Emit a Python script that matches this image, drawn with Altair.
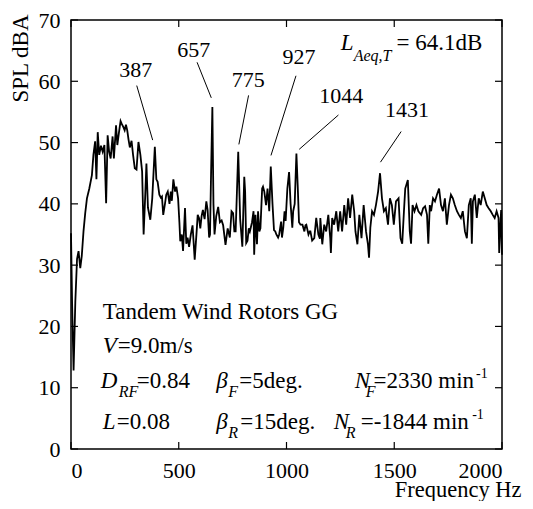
import altair as alt
import pandas as pd

# ---- spectrum ----
freq = [0, 5, 12, 20, 28, 35, 43, 50, 58, 66, 74, 85, 97, 104, 112, 118, 124, 131, 139, 147,
        155, 163, 170, 177, 184, 193, 199, 209, 215, 222, 230, 236, 242, 249, 255, 261, 267, 273, 281, 288,
        296, 304, 313, 322, 330, 337, 344, 350, 357, 368, 377, 389, 396, 402, 410, 417, 422, 428, 436, 442,
        449, 457, 463, 468, 475, 483, 489, 497, 503, 507, 514, 520, 529, 535, 541, 548, 556, 564, 574, 583,
        588, 594, 600, 606, 612, 620, 628, 634, 641, 645, 650, 656, 661, 666, 674, 683, 691, 699, 706, 717,
        727, 737, 745, 752, 758, 764, 770, 776, 785, 795, 804, 808, 813, 819, 825, 830, 840, 847, 850, 856,
        863, 868, 874, 879, 887, 891, 897, 905, 912, 920, 927, 935, 942, 948, 953, 961, 966, 975, 979, 985,
        991, 996, 1004, 1012, 1019, 1027, 1031, 1038, 1046, 1052, 1058, 1065, 1074, 1083, 1088, 1092, 1102, 1108, 1111, 1119,
        1129, 1138, 1148, 1155, 1157, 1166, 1175, 1184, 1194, 1203, 1206, 1212, 1221, 1231, 1240, 1249, 1258, 1268, 1277, 1286,
        1295, 1305, 1314, 1320, 1329, 1338, 1348, 1358, 1369, 1378, 1383, 1389, 1397, 1406, 1415, 1425, 1434, 1443, 1452, 1461,
        1471, 1480, 1489, 1498, 1508, 1520, 1529, 1537, 1545, 1551, 1563, 1572, 1578, 1585, 1594, 1603, 1612, 1625, 1634, 1643,
        1652, 1658, 1665, 1671, 1680, 1689, 1698, 1708, 1717, 1726, 1735, 1744, 1754, 1763, 1772, 1781, 1791, 1800, 1809, 1818,
        1828, 1837, 1846, 1855, 1860, 1865, 1874, 1883, 1892, 1901, 1911, 1920, 1929, 1938, 1948, 1957, 1966, 1975, 1984, 1987,
        1991, 1996, 2000]
spl = [35.2, 24, 12.8, 24, 31, 32.3, 29.5, 31.5, 35.5, 38.5, 40.9, 42.5, 44.7, 48, 50.2, 44, 51.7, 48, 49.5, 48.5,
       49.6, 40.1, 51.2, 48.5, 47.4, 51, 47.4, 52.8, 49.6, 51.5, 53.5, 53, 52.6, 52, 52.9, 52, 50.5, 49.2, 50.3, 48,
       45.8, 45.6, 50.1, 48, 45.3, 35, 41, 46.6, 39.4, 37.4, 40.9, 49.3, 44, 43.6, 41.5, 41, 41.2, 38.2, 40, 41.5,
       42, 40, 42, 40.5, 44, 42, 42.8, 40.9, 37, 33.9, 35, 32.3, 39.3, 33.5, 34.5, 33, 35, 36.5, 30.9, 35.5,
       38.2, 37.7, 36, 38, 39, 37.5, 40.4, 39, 34.5, 35, 45, 55.8, 40, 35, 38, 39.5, 37, 37.3, 36.5, 33.3,
       36, 34.5, 38.8, 38.5, 35.5, 35.5, 42, 48.5, 37.5, 33, 44.4, 42, 33.6, 34, 36, 35.5, 37, 38.8, 31.7, 38.2,
       33.4, 38.8, 35.5, 36, 42.5, 42.8, 42, 39.8, 42.5, 38.8, 46.1, 40, 35.7, 35.5, 35, 34.5, 35, 37.1, 34.5, 36.1,
       38.8, 37.2, 42.5, 45.2, 40, 36.1, 38.8, 40, 48.2, 43, 37, 36.6, 36.6, 35.5, 36.5, 36.6, 35, 35.5, 35.5, 34,
       34.4, 37.7, 35, 34.3, 37.7, 33.4, 36.6, 35.5, 38.2, 34.4, 32, 37.7, 36.6, 38.8, 35.5, 38.8, 35.5, 39.8, 36.6, 40.9,
       37.7, 41.5, 38.8, 35.5, 33.4, 38.2, 34.4, 39.8, 35.5, 33.4, 31.2, 36.1, 38.8, 38.2, 39.8, 42, 45, 40.9, 38.8, 39.3,
       36.6, 40.9, 39.8, 36.6, 40.4, 40.9, 34.4, 33.5, 38.8, 42.5, 43.9, 35.5, 33.5, 39.8, 38.8, 39.8, 38.8, 38.2, 39.3, 39.6,
       38.2, 33.5, 39.8, 38.8, 40.9, 40.4, 41.5, 42.5, 39.8, 38.8, 40.9, 36.6, 39.8, 41.5, 40.9, 39.8, 38.8, 38.2, 37.7, 38.8,
       35.5, 34.4, 39.8, 40.9, 33.5, 40.4, 41.5, 37.7, 40.9, 39.8, 42, 40.9, 39.8, 39.3, 38.8, 38.2, 37.7, 38.8, 37.7, 32,
       35.5, 39, 31.7]

# ---- peak labels and leader lines ----
peak_labels = ["387", "657", "775", "927", "1044", "1431"]
label_f = [300, 570, 822, 1058, 1254, 1559]
label_v = [60.7, 64.0, 59.1, 62.9, 56.4, 54.2]
lead_f1 = [305, 585, 824, 1044, 1241, 1532]
lead_v1 = [59.3, 63.1, 57.7, 60.9, 54.5, 51.8]
lead_f2 = [379, 651, 779, 928, 1059, 1436]
lead_v2 = [50.4, 57.3, 49.7, 47.9, 48.9, 46.8]

x_ticks = [0, 500, 1000, 1500, 2000]
y_ticks = [0, 10, 20, 30, 40, 50, 60, 70]

W, H = 431, 429
FONT = "Liberation Serif"

# layout of the info text: (text, px, py, fontsize, italic), in reference-picture pixels
segments = [
    ("Tandem Wind Rotors GG", 106, 320, 23, False),
    ("V", 106, 355, 23, True),
    ("=9.0m/s", 121, 355, 23, False),
    ("D", 104, 390, 23, True),
    ("RF", 122, 399, 16, True),
    ("=0.84", 140, 390, 23, False),
    ("\u03b2", 220, 390, 23, True),
    ("F", 232, 399, 16, True),
    ("=5deg.", 243, 390, 23, False),
    ("N", 359, 390, 23, True),
    ("F", 370, 399, 16, True),
    ("=2330 min", 378, 390, 23, False),
    ("-1", 481, 380, 14, False),
    ("L", 106, 431, 23, True),
    ("=0.08", 120, 431, 23, False),
    ("\u03b2", 220, 431, 23, True),
    ("R", 232, 440, 16, True),
    ("=15deg.", 244, 431, 23, False),
    ("N", 338, 431, 23, True),
    ("R", 350, 440, 16, True),
    ("=-1844 min", 365, 431, 23, False),
    ("-1", 477, 421, 14, False),
    ("L", 345, 50, 23, True),
    ("Aeq,T", 358, 61, 16, True),
    ("= 64.1dB", 401, 50, 23, False),
]


# reference plot frame: x 74..507 px, y 20..451 px
def px_to_f(px):
    return (px - 74) * 2000 / 433


def py_to_v(py):
    return (451 - py) * 70 / 431


seg_df = pd.DataFrame(
    [dict(t=t, f=px_to_f(px), v=py_to_v(py), s=s, it=it) for t, px, py, s, it in segments]
)

xs = alt.Scale(domain=[0, 2000], nice=False)
ys = alt.Scale(domain=[0, 70], nice=False)

spec_df = pd.DataFrame({"f": freq, "v": spl})

line = alt.Chart(spec_df).mark_line(color="black", strokeWidth=1.8).encode(
    x=alt.X("f:Q", scale=xs,
            axis=alt.Axis(values=x_ticks, format="d", title="Frequency  Hz", titleX=450, titleY=47,
                          titleAlign="right", titleBaseline="alphabetic", titleFontSize=22.5,
                          titleFont=FONT, labelFont=FONT, labelPadding=11)),
    y=alt.Y("v:Q", scale=ys,
            axis=alt.Axis(values=y_ticks, format="d", title="SPL  dBA", titleX=-44, titleY=-6,
                          titleAngle=270, titleAlign="right", titleBaseline="alphabetic",
                          titleFontSize=23, titleFont=FONT, labelFont=FONT, labelPadding=11)),
)

lead_df = pd.DataFrame({"f1": lead_f1, "v1": lead_v1, "f2": lead_f2, "v2": lead_v2})
leaders = alt.Chart(lead_df).mark_rule(color="black", strokeWidth=1).encode(
    x=alt.X("f1:Q", scale=xs), y=alt.Y("v1:Q", scale=ys), x2="f2:Q", y2="v2:Q"
)

lab_df = pd.DataFrame({"t": peak_labels, "f": label_f, "v": label_v})
labels = alt.Chart(lab_df).mark_text(font=FONT, fontSize=22, align="center",
                                     baseline="alphabetic", color="black").encode(
    x=alt.X("f:Q", scale=xs), y=alt.Y("v:Q", scale=ys), text="t:N"
)

info_n = alt.Chart(seg_df[~seg_df.it]).mark_text(font=FONT, align="left", baseline="alphabetic",
                                                 color="black").encode(
    x=alt.X("f:Q", scale=xs), y=alt.Y("v:Q", scale=ys), text="t:N",
    size=alt.Size("s:Q", scale=None, legend=None)
)
info_i = alt.Chart(seg_df[seg_df.it]).mark_text(font=FONT, fontStyle="italic", align="left",
                                                baseline="alphabetic", color="black").encode(
    x=alt.X("f:Q", scale=xs), y=alt.Y("v:Q", scale=ys), text="t:N",
    size=alt.Size("s:Q", scale=None, legend=None)
)

# inward ticks on all four sides
yt = pd.DataFrame({"v": y_ticks})
xt = pd.DataFrame({"f": x_ticks})
tick_l = alt.Chart(yt).mark_rule(color="black", strokeWidth=1.2).encode(
    y=alt.Y("v:Q", scale=ys), x=alt.value(0), x2=alt.value(7))
tick_r = alt.Chart(yt).mark_rule(color="black", strokeWidth=1.2).encode(
    y=alt.Y("v:Q", scale=ys), x=alt.value(W - 7), x2=alt.value(W))
tick_b = alt.Chart(xt).mark_rule(color="black", strokeWidth=1.2).encode(
    x=alt.X("f:Q", scale=xs), y=alt.value(H), y2=alt.value(H - 7))
tick_t = alt.Chart(xt).mark_rule(color="black", strokeWidth=1.2).encode(
    x=alt.X("f:Q", scale=xs), y=alt.value(0), y2=alt.value(7))

chart = alt.layer(line, leaders, labels, info_n, info_i, tick_l, tick_r, tick_b, tick_t).properties(
    width=W, height=H,
    padding={"left": 63, "top": 12, "right": 23, "bottom": 52},
    autosize=alt.AutoSizeParams(type="none"),
    background="white",
).configure(font=FONT).configure_view(stroke="black", strokeWidth=1.5).configure_axis(
    labelFontSize=22, labelColor="black", titleColor="black",
    titleFontWeight="normal", ticks=False, tickSize=0, domain=False, grid=False,
)

chart.save("out.html", embed_options={"renderer": "svg", "actions": False})
